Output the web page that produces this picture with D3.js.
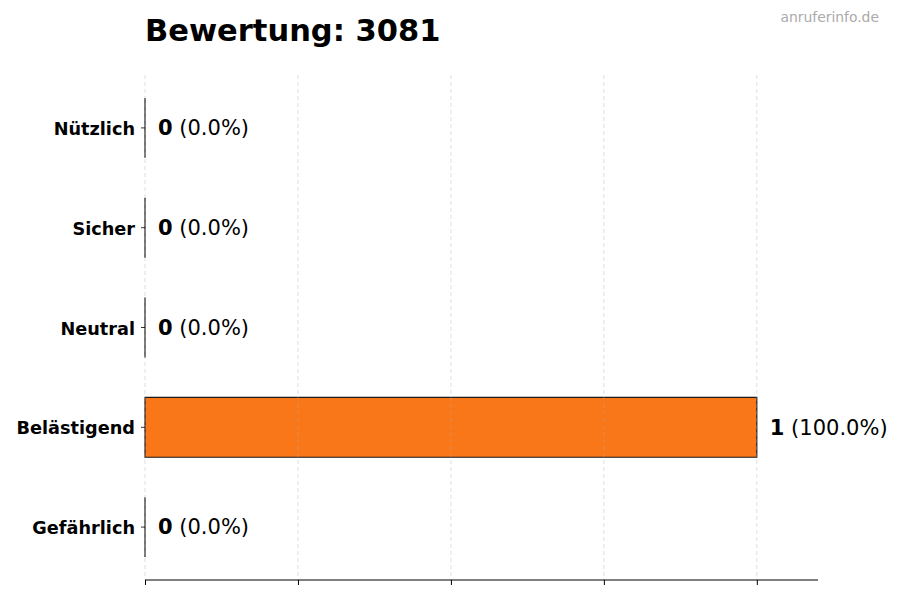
<!DOCTYPE html>
<html>
<head>
<meta charset="utf-8">
<script src="https://cdn.jsdelivr.net/npm/d3@7"></script>
<style>
  body { margin: 0; background: #fff; }
  svg { font-family: "DejaVu Sans", sans-serif; }
</style>
</head>
<body>
<svg id="chart" width="900" height="600"></svg>
<script>
const categories = ["Gefährlich", "Belästigend", "Neutral", "Sicher", "Nützlich"];
const counts = [0, 1, 0, 0, 0];
const percents = [0.0, 100.0, 0.0, 0.0, 0.0];
const colors = ["#d62728", "#f97619", "#7f7f7f", "#2ca02c", "#1f77b4"];
const xTicks = [0, 0.25, 0.5, 0.75, 1.0];
const title = "Bewertung: 3081";
const watermark = "anruferinfo.de";

(function () {
const svg = d3.select("#chart");
const mL = 145, mR = 818, mT = 75, mB = 580;

const x = d3.scaleLinear().domain([0, 1.1]).range([mL, mR]);
const y = d3.scaleLinear().domain([-0.53, 4.53]).range([mB, mT]);
const barH = 0.6;

// bars (as paths so zero-width bars still show their edge)
svg.append("g").selectAll("path").data(categories).join("path")
  .attr("d", (d, i) => {
    const x0 = x(0), x1 = x(counts[i]);
    const y0 = y(i + barH / 2), y1 = y(i - barH / 2);
    return `M${x0},${y0}H${x1}V${y1}H${x0}Z`;
  })
  .attr("fill", (d, i) => colors[i])
  .attr("stroke", "#1a1a1a")
  .attr("stroke-width", 1.2);

// grid (drawn over bars, faint)
svg.append("g").selectAll("line").data(xTicks).join("line")
  .attr("x1", d => x(d)).attr("x2", d => x(d))
  .attr("y1", mT).attr("y2", mB)
  .attr("stroke", "#b0b0b0").attr("stroke-opacity", 0.5).attr("stroke-width", 0.8)
  .attr("stroke-dasharray", "4,3");

// x axis
const xAxis = d3.axisBottom(x).tickValues(xTicks).tickFormat("").tickSize(5).tickSizeOuter(0);
const gx = svg.append("g").attr("transform", `translate(0,${mB})`).call(xAxis);
gx.select(".domain").attr("stroke", "#000").attr("stroke-width", 1.2).attr("d", `M${mL},0H${mR}`);
gx.selectAll(".tick line").attr("stroke", "#000").attr("stroke-width", 1);

// y axis ticks and labels
const gy = svg.append("g");
categories.forEach((c, i) => {
  gy.append("line").attr("x1", mL - 4).attr("x2", mL).attr("y1", y(i)).attr("y2", y(i))
    .attr("stroke", "#000").attr("stroke-width", 0.8);
  gy.append("text").attr("x", mL - 10).attr("y", y(i) + 1).attr("dy", "0.35em")
    .attr("text-anchor", "end").attr("font-weight", "bold")
    .attr("fill", "#000").style("font-size", "17.7px").text(c);
});

// value labels
categories.forEach((c, i) => {
  const t = svg.append("text").attr("x", x(counts[i]) + 13).attr("y", y(i)).attr("dy", "0.35em")
    .style("font-size", "21px").attr("fill", "#000");
  t.append("tspan").attr("font-weight", "bold").text(counts[i]);
  t.append("tspan").text(" (" + percents[i].toFixed(1) + "%)");
});

// title
svg.append("text").attr("x", mL).attr("y", 41).style("font-size", "30.5px").attr("font-weight", "bold")
  .attr("fill", "#000").text(title);

// watermark
svg.append("text").attr("x", 879).attr("y", 22).attr("text-anchor", "end")
  .style("font-size", "13.9px").attr("fill", "#aaaaaa").text(watermark);
})();
</script>
</body>
</html>
